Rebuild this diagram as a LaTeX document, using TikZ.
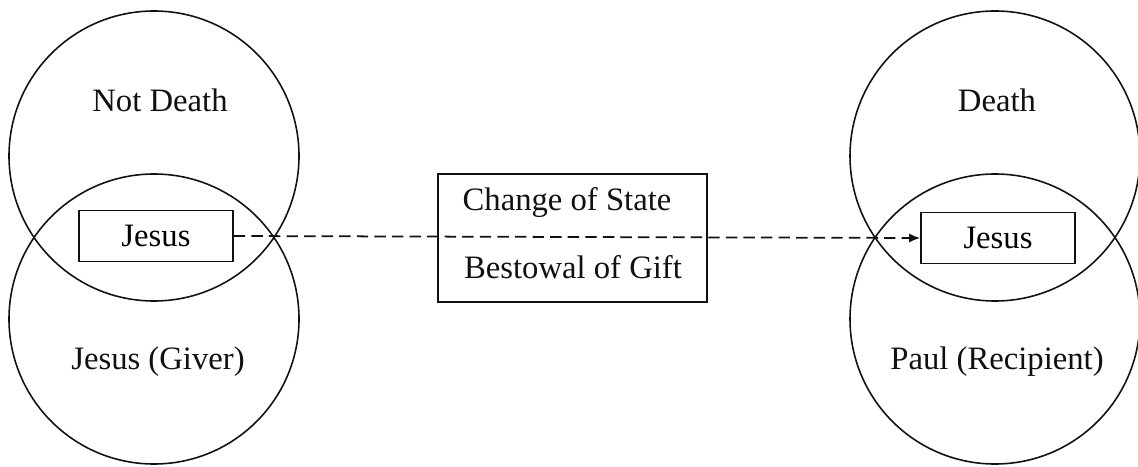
\documentclass[tikz,border=0pt]{standalone}
\usepackage{fontspec}
\setmainfont{Liberation Serif}
\usetikzlibrary{arrows.meta,calc,positioning}
\newcommand{\vnlabel}{\fontsize{18.6}{22}\selectfont}
\definecolor{vnink}{HTML}{111111}
\tikzset{
  venncircle/.style={draw=vnink,circle,line width=0.9pt,minimum size=5.8cm,inner sep=0pt},
  vennlabel/.style={font=\vnlabel,text=vnink,inner sep=1pt},
  personbox/.style={draw=vnink,rectangle,line width=0.9pt,minimum width=3.08cm,
    minimum height=1.02cm,inner sep=0pt,font=\vnlabel},
  statebox/.style={draw=vnink,rectangle,line width=0.9pt,minimum width=5.38cm,
    minimum height=2.56cm,inner sep=0pt},
  giftarrow/.style={draw=vnink,line width=1pt,dash pattern=on 6.5pt off 3.5pt,
    -{Latex[length=2.2mm,width=1.8mm]}},
}
\begin{document}
\begin{tikzpicture}[x=1cm,y=1cm]
        \path[use as bounding box] (0,0) rectangle (22.76,9.32);
        % giver side
        \node[venncircle] (ltop) at (3.08,6.20) {};
        \node[venncircle] (lbot) at (3.08,2.94) {};
        \node[vennlabel] (lstate) at (3.20,7.32) {Not Death};
        \node[vennlabel] (lrole) at (3.16,2.08) {Jesus (Giver)};
        \node[personbox] (ljesus) at (3.12,4.60) {Jesus};
        % recipient side
        \node[venncircle] (rtop) at (19.90,6.20) {};
        \node[venncircle] (rbot) at (19.90,2.94) {};
        \node[vennlabel] (rstate) at (19.94,7.32) {Death};
        \node[vennlabel] (rrole) at (19.94,2.08) {Paul (Recipient)};
        \node[personbox] (rjesus) at (19.96,4.56) {Jesus};
        % exchange
        \node[statebox] (change) at (11.45,4.56) {};
        \node[vennlabel] (chstate) at (11.34,5.26) {Change of State};
        \node[vennlabel] (chgift) at (11.46,3.98) {Bestowal of Gift};
        \draw[giftarrow] (ljesus.east) -- (rjesus.west);
      \end{tikzpicture}
\end{document}
